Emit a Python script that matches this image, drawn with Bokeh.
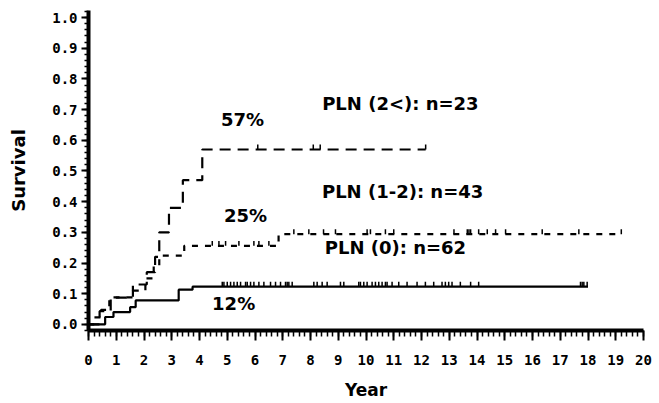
import numpy as np
from bokeh.plotting import figure
from bokeh.models import Range1d, SingleIntervalTicker, PrintfTickFormatter, Label
from bokeh.embed import file_html
from bokeh.resources import INLINE

# ---- data ----
pln0_t = [0, 0.6, 0.9, 1.5, 1.7, 3.25, 3.75, 18.0]
pln0_s = [0, 0.024, 0.04, 0.056, 0.078, 0.113, 0.123, 0.123]
pln0_cens = [4.82, 4.88, 5.0, 5.12, 5.24, 5.36, 5.48, 5.66, 5.72, 5.84, 5.96, 6.14, 6.32,
             6.56, 6.74, 6.92, 7.1, 7.16, 7.22, 7.34, 8.12, 8.24, 8.42, 8.6, 9.08, 9.2,
             9.74, 9.8, 9.92, 10.04, 10.22, 10.34, 10.46, 10.58, 10.7, 10.76, 10.94,
             11.18, 11.48, 11.84, 12.14, 12.44, 12.74, 12.86, 12.98, 13.1, 13.4, 13.77,
             14.06, 17.73, 17.79, 17.85, 17.97]

pln12_t = [0, 0.2, 0.45, 0.75, 1.6, 2.05, 2.35, 2.55, 3.45, 6.85, 19.2]
pln12_s = [0, 0.023, 0.047, 0.088, 0.11, 0.15, 0.19, 0.224, 0.256, 0.294, 0.294]
pln12_cens = [4.46, 4.7, 4.94, 5.42, 5.96, 6.14, 6.5, 7.4, 7.94, 8.47, 8.9, 10.04, 10.16,
              10.7, 11.0, 13.17, 13.65, 13.71, 13.77, 14.06, 14.37, 14.67, 15.03, 16.35,
              17.67, 19.2]

pln2_t = [0, 0.4, 0.8, 1.6, 2.1, 2.4, 2.55, 2.9, 3.4, 4.1, 12.15]
pln2_s = [0, 0.043, 0.087, 0.13, 0.17, 0.22, 0.30, 0.38, 0.47, 0.57, 0.57]
pln2_cens = [6.1, 8.1, 8.35, 12.15]

texts = ["57%", "PLN (2<): n=23", "25%", "PLN (1-2): n=43", "PLN (0): n=62", "12%"]
text_x = [5.55, 11.24, 5.66, 11.32, 11.06, 5.23]
text_y = [0.669, 0.72, 0.354, 0.432, 0.25, 0.068]


def level_at(ts, ss, cens):
    idx = np.searchsorted(np.array(ts), np.array(cens), side="right") - 1
    return [ss[i] for i in idx]


p = figure(width=659, height=403, output_backend="svg", toolbar_location=None,
           x_range=Range1d(0, 20), y_range=Range1d(-0.02, 1.023),
           min_border_left=88, min_border_right=16, min_border_top=10,
           min_border_bottom=73)
p.outline_line_color = None
p.xgrid.visible = False
p.ygrid.visible = False

# curves
p.step(pln0_t, pln0_s, mode="after", line_color="black", line_width=2.2)
p.step(pln12_t, pln12_s, mode="after", line_color="black", line_width=2.2,
       line_dash="6 7")
p.step(pln2_t, pln2_s, mode="after", line_color="black", line_width=2.2,
       line_dash="11 7")

# censoring marks
for ts, ss, cens in [(pln0_t, pln0_s, pln0_cens), (pln12_t, pln12_s, pln12_cens),
                     (pln2_t, pln2_s, pln2_cens)]:
    lv = level_at(ts, ss, cens)
    p.segment(x0=cens, y0=lv, x1=cens, y1=[v + 0.016 for v in lv],
              line_color="black", line_width=1.5)

# annotations
for t, x, y in zip(texts, text_x, text_y):
    p.add_layout(Label(x=x, y=y, text=t, text_align="center", text_baseline="middle",
                       text_font="DejaVu Sans", text_font_style="bold",
                       text_font_size="18px", text_color="black"))

# axes
xa = p.xaxis[0]
xa.ticker = SingleIntervalTicker(interval=1, num_minor_ticks=5)
xa.formatter = PrintfTickFormatter(format="%d")
ya = p.yaxis[0]
ya.ticker = SingleIntervalTicker(interval=0.1, num_minor_ticks=5)
ya.formatter = PrintfTickFormatter(format="%.1f")

for ax in (xa, ya):
    ax.axis_line_width = 4
    ax.axis_line_color = "black"
    ax.major_tick_line_width = 2
    ax.minor_tick_line_width = 1.5
    ax.major_tick_in = 0
    ax.minor_tick_in = 0
    ax.major_label_text_font = "DejaVu Sans Mono"
    ax.major_label_text_font_style = "bold"
    ax.major_label_text_font_size = "14px"
    ax.major_label_text_color = "black"
    ax.axis_label_text_font = "DejaVu Sans"
    ax.axis_label_text_font_style = "bold"
    ax.axis_label_text_color = "black"

xa.major_tick_out = 10
xa.minor_tick_out = 6
xa.major_label_standoff = 14
xa.axis_label = "Year"
xa.axis_label_text_font_size = "17px"
xa.axis_label_standoff = 12

ya.major_tick_out = 7
ya.minor_tick_out = 4
ya.major_label_standoff = 4
ya.axis_label = "Survival"
ya.axis_label_text_font_size = "18px"
ya.axis_label_standoff = 20

open("out.html", "w").write(file_html(p, INLINE))
